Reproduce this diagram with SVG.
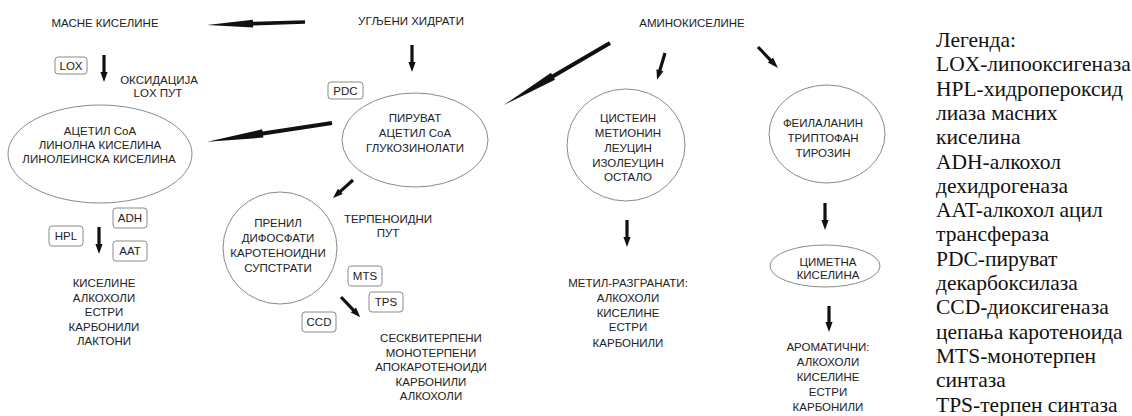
<svg xmlns="http://www.w3.org/2000/svg" width="1132" height="416" viewBox="0 0 1132 416">
<style>
.t{font-family:"Liberation Sans",Arial,sans-serif;font-size:11.5px;fill:#222;text-anchor:middle}
.n{fill:#fff;stroke:#8a8a8a;stroke-width:1}
.b{fill:#fff;stroke:#8a8a8a;stroke-width:1}
.arr{fill:#111}
.lg{font-family:"Liberation Serif","Times New Roman",serif;font-size:21.5px;fill:#111}
</style>
<rect width="1132" height="416" fill="#fff"/>
<g id="connectors">
<polygon class="arr" transform="translate(305 22) rotate(178.2)" points="0,-1.8 52,-1.8 52,-3.8 98,0 52,3.8 52,1.8 0,1.8"/>
<polygon class="arr" transform="translate(104 55) rotate(90)" points="0,-1.6 17,-1.6 17,-3.6 27,0 17,3.6 17,1.6 0,1.6"/>
<polygon class="arr" transform="translate(412 45) rotate(90)" points="0,-1.6 17,-1.6 17,-3.6 27,0 17,3.6 17,1.6 0,1.6"/>
<polygon class="arr" transform="translate(610 43) rotate(149.7)" points="0,-2 66,-2 66,-4 123,0 66,4 66,2 0,2"/>
<polygon class="arr" transform="translate(332 123) rotate(171.4)" points="0,-2 70,-2 70,-4.2 126,0 70,4.2 70,2 0,2"/>
<polygon class="arr" transform="translate(665 53) rotate(106.5)" points="0,-1.6 18,-1.6 18,-3.6 28,0 18,3.6 18,1.6 0,1.6"/>
<polygon class="arr" transform="translate(758 47) rotate(46.4)" points="0,-1.6 18,-1.6 18,-3.6 29,0 18,3.6 18,1.6 0,1.6"/>
<polygon class="arr" transform="translate(353 180) rotate(138)" points="0,-1.6 17,-1.6 17,-3.6 27,0 17,3.6 17,1.6 0,1.6"/>
<polygon class="arr" transform="translate(341 297) rotate(46.5)" points="0,-1.6 18,-1.6 18,-3.6 28,0 18,3.6 18,1.6 0,1.6"/>
<polygon class="arr" transform="translate(99 227) rotate(90)" points="0,-1.6 17,-1.6 17,-3.6 27,0 17,3.6 17,1.6 0,1.6"/>
<polygon class="arr" transform="translate(627 220) rotate(90)" points="0,-1.6 17,-1.6 17,-3.6 27,0 17,3.6 17,1.6 0,1.6"/>
<polygon class="arr" transform="translate(825 203) rotate(90)" points="0,-1.6 17,-1.6 17,-3.6 27,0 17,3.6 17,1.6 0,1.6"/>
<polygon class="arr" transform="translate(829 306) rotate(90)" points="0,-1.6 16,-1.6 16,-3.6 26,0 16,3.6 16,1.6 0,1.6"/>
</g>
<g id="masne"><text class="t" x="105" y="27">МАСНЕ КИСЕЛИНЕ</text></g>
<g id="ugljeni"><text class="t" x="411" y="25">УГЉЕНИ ХИДРАТИ</text></g>
<g id="amino"><text class="t" x="692" y="27">АМИНОКИСЕЛИНЕ</text></g>
<g id="lox"><rect class="b" x="55" y="57" width="32" height="17" rx="3"/><text class="t" x="71" y="69.5">LOX</text></g>
<g id="oksidacija"><text class="t" x="159" y="84">ОКСИДАЦИЈА</text><text class="t" x="158" y="97">LOX ПУТ</text></g>
<g id="pdc"><rect class="b" x="328" y="82" width="35" height="17" rx="3"/><text class="t" x="345.5" y="94.5">PDC</text></g>
<g id="acetil"><ellipse class="n" cx="100" cy="154" rx="92" ry="49"/><text class="t" x="100" y="135">АЦЕТИЛ CoA</text><text class="t" x="100" y="149">ЛИНОЛНА КИСЕЛИНА</text><text class="t" x="99" y="163">ЛИНОЛЕИНСКА КИСЕЛИНА</text></g>
<g id="piruvat"><ellipse class="n" cx="415" cy="140" rx="73" ry="47"/><text class="t" x="415" y="122">ПИРУВАТ</text><text class="t" x="415" y="137">АЦЕТИЛ CoA</text><text class="t" x="415" y="152">ГЛУКОЗИНОЛАТИ</text></g>
<g id="cistein"><ellipse class="n" cx="626" cy="145" rx="59" ry="56"/><text class="t" x="628" y="122">ЦИСТЕИН</text><text class="t" x="628" y="137">МЕТИОНИН</text><text class="t" x="628" y="152">ЛЕУЦИН</text><text class="t" x="628" y="167">ИЗОЛЕУЦИН</text><text class="t" x="628" y="181">ОСТАЛО</text></g>
<g id="feilalanin"><ellipse class="n" cx="827" cy="134" rx="58" ry="49"/><text class="t" x="823" y="127">ФЕИЛАЛАНИН</text><text class="t" x="823" y="142">ТРИПТОФАН</text><text class="t" x="823" y="157">ТИРОЗИН</text></g>
<g id="prenil"><ellipse class="n" cx="280" cy="248" rx="57" ry="56"/><text class="t" x="278" y="227">ПРЕНИЛ</text><text class="t" x="278" y="242">ДИФОСФАТИ</text><text class="t" x="278" y="257">КАРОТЕНОИДНИ</text><text class="t" x="278" y="272">СУПСТРАТИ</text></g>
<g id="terpenoidni"><text class="t" x="388" y="223">ТЕРПЕНОИДНИ</text><text class="t" x="388" y="237">ПУТ</text></g>
<g id="mts"><rect class="b" x="348" y="266" width="34" height="20" rx="3"/><text class="t" x="365" y="280">MTS</text></g>
<g id="tps"><rect class="b" x="369" y="292" width="34" height="20" rx="3"/><text class="t" x="386" y="306">TPS</text></g>
<g id="ccd"><rect class="b" x="302" y="312" width="34" height="20" rx="3"/><text class="t" x="319" y="326">CCD</text></g>
<g id="seskviterpeni"><text class="t" x="431" y="342">СЕСКВИТЕРПЕНИ</text><text class="t" x="431" y="357">МОНОТЕРПЕНИ</text><text class="t" x="431" y="371">АПОКАРОТЕНОИДИ</text><text class="t" x="431" y="386">КАРБОНИЛИ</text><text class="t" x="431" y="400">АЛКОХОЛИ</text></g>
<g id="adh"><rect class="b" x="113" y="208" width="34" height="20" rx="3"/><text class="t" x="130" y="222">ADH</text></g>
<g id="aat"><rect class="b" x="113" y="241" width="34" height="20" rx="3"/><text class="t" x="130" y="255">AAT</text></g>
<g id="hpl"><rect class="b" x="49" y="226" width="34" height="20" rx="3"/><text class="t" x="66" y="240">HPL</text></g>
<g id="kiseline"><text class="t" x="104" y="287">КИСЕЛИНЕ</text><text class="t" x="104" y="302">АЛКОХОЛИ</text><text class="t" x="104" y="316">ЕСТРИ</text><text class="t" x="104" y="331">КАРБОНИЛИ</text><text class="t" x="104" y="345">ЛАКТОНИ</text></g>
<g id="metil"><text class="t" x="628" y="287">МЕТИЛ-РАЗГРАНАТИ:</text><text class="t" x="628" y="302">АЛКОХОЛИ</text><text class="t" x="628" y="317">КИСЕЛИНЕ</text><text class="t" x="628" y="331">ЕСТРИ</text><text class="t" x="628" y="347">КАРБОНИЛИ</text></g>
<g id="cimetna"><ellipse class="n" cx="825" cy="266" rx="55" ry="21"/><text class="t" x="828" y="266">ЦИМЕТНА</text><text class="t" x="828" y="279">КИСЕЛИНА</text></g>
<g id="aromaticni"><text class="t" x="828" y="351">АРОМАТИЧНИ:</text><text class="t" x="828" y="366">АЛКОХОЛИ</text><text class="t" x="828" y="381">КИСЕЛИНЕ</text><text class="t" x="828" y="396">ЕСТРИ</text><text class="t" x="828" y="411">КАРБОНИЛИ</text></g>
<g id="legend" class="lg">
<text x="936" y="47">Легенда:</text>
<text x="936" y="71.3">LOX-липооксигеназа</text>
<text x="936" y="95.6">HPL-хидропероксид</text>
<text x="936" y="119.9">лиаза масних</text>
<text x="936" y="144.2">киселина</text>
<text x="936" y="168.5">ADH-алкохол</text>
<text x="936" y="192.8">дехидрогеназа</text>
<text x="936" y="217.1">AAT-алкохол ацил</text>
<text x="936" y="241.4">трансфераза</text>
<text x="936" y="265.7">PDC-пируват</text>
<text x="936" y="290">декарбоксилаза</text>
<text x="936" y="314.3">CCD-диоксигеназа</text>
<text x="936" y="338.6">цепања каротеноида</text>
<text x="936" y="362.9">MTS-монотерпен</text>
<text x="936" y="387.2">синтаза</text>
<text x="936" y="411.5">TPS-терпен синтаза</text>
</g>
</svg>
